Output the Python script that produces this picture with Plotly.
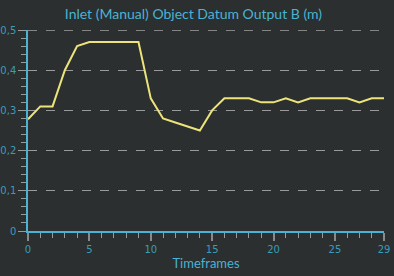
import plotly.graph_objects as go

frames = list(range(30))
values = [0.278, 0.31, 0.31, 0.40, 0.46, 0.47, 0.47, 0.47, 0.47, 0.47,
          0.33, 0.28, 0.27, 0.26, 0.25, 0.30, 0.33, 0.33, 0.33, 0.32,
          0.32, 0.33, 0.32, 0.33, 0.33, 0.33, 0.33, 0.32, 0.33, 0.33]
x_ticks = [0, 5, 10, 15, 20, 25, 29]
y_ticks = [0, 0.1, 0.2, 0.3, 0.4, 0.5]

title = "Inlet (Manual) Object Datum Output B (m)"
x_title = "Timeframes"

bg = "#2b2f2f"
cyan = "#4ab3d3"
label_col = "#3a9cbb"
font = "Lato"

fig = go.Figure()
fig.add_trace(go.Scatter(x=frames, y=values, mode="lines",
                         line=dict(color="#ece47a", width=2), showlegend=False))

# top gridline (at range edge) drawn brighter
fig.add_hline(y=y_ticks[-1], line=dict(color="#dcdcdc", width=1, dash="dash"), layer="below")

fig.update_layout(
    width=394, height=276,
    paper_bgcolor=bg, plot_bgcolor=bg,
    margin=dict(l=28, r=10, t=30, b=45),
    separators=",.",
    title=dict(text=title, x=0.491, xanchor="center", y=0.95, yanchor="middle",
               font=dict(family=font, size=14, color=cyan)),
    font=dict(family=font, color=label_col),
)
fig.update_xaxes(
    range=[0, 29], tickvals=x_ticks, ticks="outside", ticklen=8, tickwidth=1.5,
    tickcolor="#8a8a8a", showgrid=False, zeroline=False, automargin=False,
    showline=True, linecolor=cyan, linewidth=1.5,
    tickfont=dict(family="DejaVu Sans", size=10, color=label_col),
    title=dict(text=x_title, font=dict(family=font, size=13, color=cyan), standoff=5),
    minor=dict(dtick=1, ticks="outside", ticklen=5, tickwidth=1, tickcolor="#9a9a9a", showgrid=False),
)
fig.update_yaxes(
    range=[0, 0.5], tickvals=y_ticks, ticks="outside", ticklen=8, tickwidth=1,
    tickcolor="#9a9a9a", showgrid=True, gridcolor="#9a9a9a", griddash="dash",
    gridwidth=1, zeroline=False, automargin=False,
    showline=True, linecolor=cyan, linewidth=1.5,
    tickfont=dict(family="DejaVu Sans", size=10, color=label_col),
    minor=dict(dtick=0.02, ticks="outside", ticklen=5, tickwidth=1, tickcolor="#9a9a9a", showgrid=False),
)
fig.write_html("out.html")
